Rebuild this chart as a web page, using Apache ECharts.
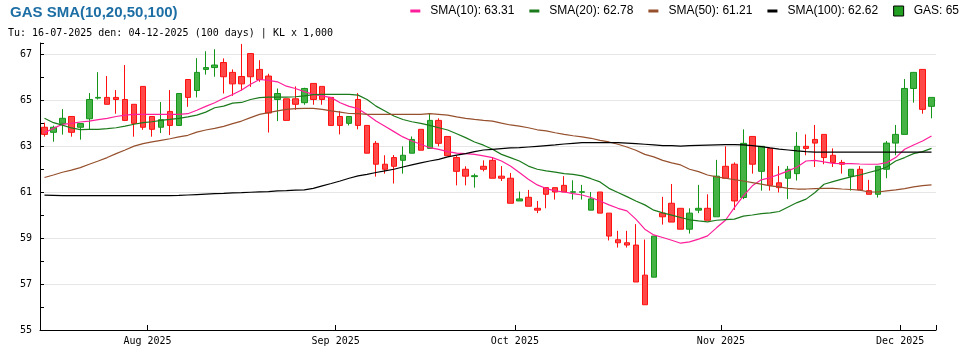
<!DOCTYPE html>
<html>
<head>
<meta charset="utf-8">
<script src="https://cdn.jsdelivr.net/npm/echarts@6/dist/echarts.min.js"></script>
<style>
html,body{margin:0;padding:0;background:#fff;}
#chart{width:970px;height:350px;}
</style>
</head>
<body>
<div id="chart"></div>
<script>
// ---- categories (trading days) ----
const dates = [
 '2025-07-16','2025-07-17','2025-07-18','2025-07-21','2025-07-22','2025-07-23','2025-07-24','2025-07-25','2025-07-28','2025-07-29','2025-07-30','2025-07-31',
 '2025-08-01','2025-08-04','2025-08-05','2025-08-06','2025-08-07','2025-08-08','2025-08-11','2025-08-12','2025-08-13','2025-08-14','2025-08-15','2025-08-18','2025-08-19','2025-08-20','2025-08-21','2025-08-22','2025-08-25','2025-08-26','2025-08-27','2025-08-28','2025-08-29',
 '2025-09-03','2025-09-04','2025-09-05','2025-09-08','2025-09-09','2025-09-10','2025-09-11','2025-09-12','2025-09-15','2025-09-16','2025-09-17','2025-09-18','2025-09-19','2025-09-22','2025-09-23','2025-09-24','2025-09-25','2025-09-26','2025-09-29','2025-09-30',
 '2025-10-01','2025-10-02','2025-10-03','2025-10-06','2025-10-07','2025-10-08','2025-10-09','2025-10-10','2025-10-13','2025-10-14','2025-10-15','2025-10-16','2025-10-17','2025-10-20','2025-10-21','2025-10-22','2025-10-23','2025-10-24','2025-10-27','2025-10-28','2025-10-29','2025-10-30','2025-10-31',
 '2025-11-03','2025-11-04','2025-11-05','2025-11-06','2025-11-07','2025-11-10','2025-11-11','2025-11-12','2025-11-13','2025-11-14','2025-11-17','2025-11-18','2025-11-19','2025-11-20','2025-11-21','2025-11-24','2025-11-25','2025-11-26','2025-11-27','2025-11-28',
 '2025-12-01','2025-12-02','2025-12-03','2025-12-04'
];

// ---- tick labels ----
const tickDates  = ['2025-08-01','2025-09-03','2025-10-01','2025-11-03','2025-12-01'];
const tickLabels = ['Aug 2025','Sep 2025','Oct 2025','Nov 2025','Dec 2025'];

// ---- OHLC ----
const opens = [63.83,63.61,64.00,64.30,63.83,64.20,65.10,65.13,65.13,65.04,64.83,65.61,64.30,63.83,64.52,63.91,65.91,65.43,66.35,66.43,66.65,66.22,66.04,67.04,66.35,
 66.06,65.04,65.07,65.07,64.90,65.74,65.61,65.13,64.30,64.00,65.04,63.91,63.13,62.22,62.51,62.39,62.70,63.74,62.91,64.13,63.43,62.51,62.00,61.68,62.13,
 62.39,61.70,61.61,60.62,60.78,60.30,61.20,61.20,61.30,61.00,61.00,60.22,61.01,60.09,58.93,58.80,58.70,57.39,57.30,60.09,60.52,60.30,59.39,60.22,60.30,
 59.93,62.13,62.22,60.77,63.43,61.91,62.91,61.41,61.61,61.81,63.00,63.30,63.52,62.61,62.30,61.70,62.00,61.07,60.91,62.00,63.14,63.52,65.52,66.35,64.74];
const closes = [63.52,63.83,64.22,63.61,63.99,65.04,65.13,64.83,65.04,64.13,64.00,63.83,63.74,64.16,63.91,65.30,65.13,66.22,66.43,66.54,66.03,65.72,65.72,66.03,65.91,
 64.45,65.30,64.13,64.83,65.52,65.04,65.04,63.91,63.91,64.30,63.91,62.70,62.22,62.00,62.13,62.61,63.30,62.83,64.13,63.13,62.59,61.91,61.70,61.72,62.00,
 61.61,61.61,60.52,60.71,60.39,60.22,60.91,61.01,61.01,61.02,61.02,60.71,60.09,59.09,58.80,58.70,57.09,56.10,59.09,59.93,59.70,59.39,60.09,60.30,59.78,
 61.70,61.61,60.62,63.13,62.22,63.00,61.30,61.20,62.00,63.00,62.91,63.14,62.51,62.30,62.22,62.00,61.10,60.91,62.13,63.14,63.52,65.52,66.22,64.61,65.13];
const lows   = [63.42,63.20,63.51,63.42,63.29,63.74,65.04,64.83,64.42,64.10,63.42,63.72,63.42,63.58,63.49,63.91,64.72,65.13,66.12,66.03,65.30,65.20,65.43,65.59,65.81,
 63.60,64.10,64.13,64.59,64.81,64.81,64.81,63.91,63.52,63.91,63.74,62.70,61.68,61.81,61.38,61.81,62.70,62.83,62.91,63.00,62.59,61.30,61.30,61.20,61.91,
 61.61,61.49,60.52,60.62,60.39,60.09,60.30,60.68,61.01,60.68,60.68,60.22,60.09,58.90,58.59,58.59,57.09,56.10,57.30,59.59,59.70,59.39,59.20,60.09,59.78,
 59.93,61.61,60.23,60.70,61.81,61.07,61.07,60.99,60.70,61.51,62.61,62.10,62.22,62.10,61.81,61.07,61.10,60.91,60.77,61.61,62.61,63.52,64.90,64.42,64.22];
const highs  = [64.03,63.90,64.62,64.32,64.00,65.32,66.23,66.06,65.45,66.54,64.83,65.61,64.30,64.93,65.45,65.30,65.91,66.84,67.14,67.23,66.83,66.35,67.46,67.04,66.75,
 66.16,65.52,65.07,65.61,65.55,65.74,65.61,65.13,64.54,64.30,65.32,63.91,63.23,62.61,62.62,63.00,63.43,63.74,64.45,64.22,63.43,62.61,62.13,61.81,62.39,
 62.51,62.14,61.84,61.03,61.10,60.62,61.20,61.20,61.70,61.52,61.32,61.01,61.01,60.09,59.32,59.32,59.61,58.94,59.09,60.80,61.36,60.30,60.30,61.32,60.91,
 62.41,63.00,62.30,63.74,63.43,63.00,62.91,62.14,62.14,63.62,63.52,63.93,63.52,62.91,62.41,62.00,62.14,61.54,62.13,63.23,63.93,65.93,66.22,66.35,65.13];

// ---- moving averages ----
const sma10 = [63.59,63.78,63.96,64.00,64.06,64.10,64.16,64.22,64.30,64.36,64.39,64.39,64.39,64.39,64.39,64.39,64.42,64.57,64.74,64.90,65.09,65.26,65.45,65.70,65.91,
 65.87,65.81,65.62,65.52,65.38,65.26,65.20,65.12,64.90,64.74,64.64,64.39,64.10,63.87,63.64,63.41,63.23,63.09,62.94,62.87,62.77,62.70,62.68,62.65,62.58,
 62.51,62.36,62.14,61.86,61.57,61.32,61.16,61.06,61.01,60.94,60.88,60.77,60.62,60.45,60.30,60.19,59.83,59.39,59.14,59.03,58.91,58.78,58.84,58.96,59.10,
 59.45,59.78,60.33,60.84,61.28,61.54,61.64,61.78,61.93,62.10,62.36,62.39,62.32,62.26,62.25,62.25,62.23,62.22,62.22,62.29,62.51,62.87,63.06,63.23,63.45];
const sma20 = [64.22,64.03,63.92,63.80,63.73,63.74,63.74,63.77,63.81,63.88,63.96,64.03,64.07,64.13,64.17,64.22,64.28,64.36,64.49,64.68,64.75,64.88,64.91,65.04,65.12,
 65.14,65.14,65.14,65.16,65.20,65.25,65.26,65.26,65.26,65.26,65.23,65.04,64.75,64.54,64.32,64.17,64.07,64.00,63.91,63.81,63.71,63.55,63.38,63.19,63.05,
 62.87,62.65,62.51,62.36,62.14,62.00,61.93,61.88,61.81,61.78,61.71,61.59,61.45,61.17,60.99,60.81,60.62,60.45,60.22,60.10,60.00,59.90,59.80,59.75,59.71,
 59.78,59.81,59.83,59.96,60.01,60.07,60.10,60.16,60.36,60.55,60.70,60.99,61.35,61.46,61.57,61.67,61.75,61.86,61.96,62.10,62.36,62.51,62.68,62.77,62.91];
const sma50 = [61.64,61.75,61.87,61.96,62.07,62.22,62.36,62.51,62.68,62.84,63.01,63.12,63.19,63.26,63.33,63.41,63.48,63.62,63.71,63.78,63.87,63.99,64.10,64.25,64.39,
 64.47,64.54,64.61,64.64,64.65,64.65,64.61,64.54,64.49,64.43,64.42,64.39,64.39,64.39,64.39,64.39,64.39,64.39,64.42,64.39,64.36,64.28,64.22,64.17,64.13,
 64.10,64.01,63.93,63.88,63.81,63.72,63.67,63.59,63.52,63.46,63.41,63.35,63.26,63.19,63.09,62.97,62.83,62.65,62.54,62.39,62.28,62.19,62.00,61.90,61.75,
 61.67,61.61,61.55,61.49,61.42,61.35,61.28,61.23,61.17,61.14,61.14,61.16,61.17,61.17,61.14,61.12,61.09,61.01,61.01,61.06,61.10,61.16,61.23,61.29,61.32];
const sma100 = [60.87,60.86,60.85,60.85,60.85,60.85,60.85,60.85,60.85,60.85,60.85,60.85,60.85,60.85,60.85,60.86,60.88,60.90,60.92,60.94,60.95,60.97,60.98,61.00,61.02,
 61.03,61.06,61.07,61.09,61.10,61.17,61.28,61.38,61.49,61.61,61.71,61.78,61.86,61.93,62.00,62.10,62.19,62.28,62.36,62.43,62.54,62.62,62.68,62.77,62.84,
 62.87,62.90,62.93,62.94,62.97,63.00,63.03,63.06,63.10,63.13,63.16,63.16,63.16,63.16,63.16,63.14,63.12,63.09,63.06,63.03,63.03,63.01,63.03,63.04,63.05,
 63.06,63.07,63.07,63.06,63.03,62.99,62.93,62.88,62.84,62.80,62.77,62.75,62.75,62.75,62.75,62.75,62.75,62.75,62.75,62.75,62.75,62.75,62.75,62.75,62.75];

// ---- legend texts ----
const legendNames = ['SMA(10): 63.31','SMA(20): 62.78','SMA(50): 61.21','SMA(100): 62.62','GAS: 65'];
const lineColors  = ['#ff1f9a','#1b7a1b','#96502d','#000000'];

const titleText = 'GAS SMA(10,20,50,100)';
const subText = 'Tu: 16-07-2025 den: 04-12-2025 (100 days) | KL x 1,000';

const candleData = dates.map((d, i) => [opens[i], closes[i], lows[i], highs[i]]);
const smaList = [sma10, sma20, sma50, sma100];
const tickIdx = tickDates.map(d => dates.indexOf(d));
const MONO = '"DejaVu Sans Mono", monospace';
// short thick bar inside a square box (thin invisible slivers keep the box square)
const BAR_ICON = 'path://M0,0L10,0L10,0.001Z M0,3.6L10,3.6L10,6.4L0,6.4Z M0,10L10,10L10,9.999Z';

const chart = echarts.init(document.getElementById('chart'), null, {renderer: 'canvas'});
const option = {
  animation: false,
  backgroundColor: '#ffffff',
  title: [
    {text: titleText, left: 5, top: 0,
     textStyle: {fontFamily: '"Liberation Sans", Arial, sans-serif', fontSize: 15, fontWeight: 'bold', color: '#1c6ea4'}},
    {text: subText, left: 3, top: 23,
     textStyle: {fontFamily: MONO, fontSize: 10, fontWeight: 'normal', color: '#000'}}
  ],
  legend: {
    right: 6, top: 0,
    itemWidth: 10, itemHeight: 10, itemGap: 15,
    formatter: (name) => '{t|' + name + '}',
    textStyle: {fontFamily: '"Liberation Sans", Arial, sans-serif', fontSize: 12, color: '#000',
      rich: {t: {fontFamily: '"Liberation Sans", Arial, sans-serif', fontSize: 12, color: '#000', padding: [0, 0, 0, 5]}}},
    data: [
      {name: legendNames[0], icon: BAR_ICON, itemStyle: {color: lineColors[0], borderWidth: 0}},
      {name: legendNames[1], icon: BAR_ICON, itemStyle: {color: lineColors[1], borderWidth: 0}},
      {name: legendNames[2], icon: BAR_ICON, itemStyle: {color: lineColors[2], borderWidth: 0}},
      {name: legendNames[3], icon: BAR_ICON, itemStyle: {color: lineColors[3], borderWidth: 0}},
      {name: legendNames[4], icon: 'rect', itemStyle: {color: '#22a022', borderColor: '#000', borderWidth: 1}}
    ]
  },
  grid: {left: 40, right: 34, top: 43, bottom: 20, containLabel: false},
  xAxis: {
    type: 'category', data: dates, boundaryGap: true,
    axisLine: {show: true, lineStyle: {color: '#000', width: 1}},
    axisTick: {show: true, inside: true, length: 5, lineStyle: {color: '#000'},
      interval: (i) => tickIdx.indexOf(i) >= 0},
    axisLabel: {
      interval: (i) => tickIdx.indexOf(i) >= 0,
      formatter: (v) => { const k = tickDates.indexOf(v); return k >= 0 ? tickLabels[k] : ''; },
      fontFamily: MONO, fontSize: 10, color: '#000', margin: 6, padding: [0, 9, 0, 0]
    },
    splitLine: {show: false}
  },
  yAxis: {
    type: 'value', min: 55, max: 67.5, interval: 2, scale: true,
    axisLine: {show: true, lineStyle: {color: '#000', width: 1}},
    axisTick: {show: true, inside: true, length: 4, lineStyle: {color: '#000'}},
    minorTick: {show: true, splitNumber: 2, length: 4, lineStyle: {color: '#000'}},
    axisLabel: {fontFamily: MONO, fontSize: 10, color: '#000', margin: 8, showMaxLabel: false},
    splitLine: {show: true, showMaxLine: false, showMinLine: false, lineStyle: {color: '#e6e6e6', width: 1}}
  },
  series: [
    {
      name: legendNames[4], type: 'candlestick', data: candleData, barWidth: 6, z: 2,
      itemStyle: {color: '#44b244', color0: '#ff4848', borderColor: '#14951a', borderColor0: '#ff1010', borderWidth: 1}
    }
  ].concat(smaList.map((arr, k) => ({
    name: legendNames[k], type: 'line', data: arr, symbol: 'none', smooth: false, z: 3,
    lineStyle: {color: lineColors[k], width: 1.2}, itemStyle: {color: lineColors[k]}
  })))
};
chart.setOption(option);
</script>
</body>
</html>
